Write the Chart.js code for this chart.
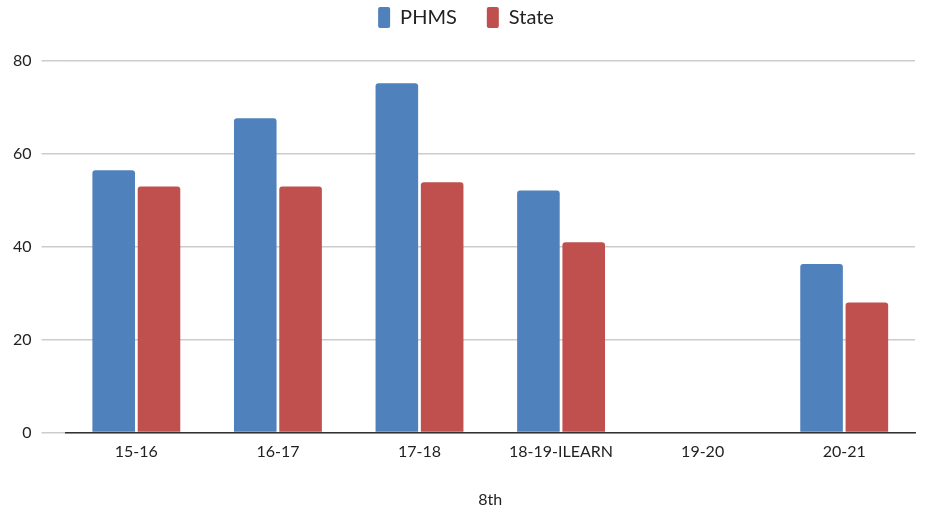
<!DOCTYPE html>
<html>
<head>
<meta charset="utf-8">
<script src="https://cdn.jsdelivr.net/npm/chart.js@4/dist/chart.umd.min.js"></script>
<style>
html,body{margin:0;padding:0;background:#fff;}
#wrap{width:929px;height:514px;position:relative;}
</style>
</head>
<body>
<div id="wrap"><canvas id="c"></canvas></div>
<script>
const categories = ["15-16", "16-17", "17-18", "18-19-ILEARN", "19-20", "20-21"];
const phms = [56.5, 67.7, 75.2, 52.1, null, 36.3];
const state = [53.0, 53.0, 53.9, 41.0, null, 28.0];
const yTicks = [0, 20, 40, 60, 80];
const xTitle = "8th";

const FONT = "Lato, 'Open Sans', sans-serif";
const legendSpacer = {
  id: 'legendSpacer',
  beforeInit(chart) {
    const origFit = chart.legend.fit;
    chart.legend.fit = function () {
      origFit.bind(chart.legend)();
      this.height += 23;
    };
  },
  afterLayout(chart) {
    chart.legend.left += 7;
    chart.legend.right += 7;
  }
};
new Chart(document.getElementById('c'), {
  type: 'bar',
  data: {
    labels: categories,
    datasets: [
      {label: 'PHMS', data: phms, backgroundColor: '#4F81BD', borderRadius: 3, borderSkipped: 'bottom'},
      {label: 'State', data: state, backgroundColor: '#C0504D', borderRadius: 3, borderSkipped: 'bottom'}
    ]
  },
  plugins: [legendSpacer],
  options: {
    responsive: true,
    maintainAspectRatio: false,
    animation: false,
    categoryPercentage: 0.64,
    barPercentage: 0.94,
    layout: {padding: {left: 3, right: 14, top: -23, bottom: 1}},
    plugins: {
      legend: {
        position: 'top',
        labels: {
          boxWidth: 12, boxHeight: 21, padding: 30,
          color: '#222',
          font: {family: FONT, size: 20},
          useBorderRadius: true, borderRadius: 2
        }
      },
      tooltip: {enabled: false}
    },
    scales: {
      x: {
        grid: {display: false},
        border: {display: true, color: '#333', width: 1.5},
        ticks: {color: '#222', font: {family: FONT, size: 16}, padding: 2, maxRotation: 0},
        title: {display: true, text: xTitle, color: '#222', font: {family: FONT, size: 16}, padding: {top: 26}}
      },
      y: {
        min: 0, max: 80,
        afterBuildTicks: (s) => { s.ticks = yTicks.map(v => ({value: v})); },
        grid: {color: '#cccccc', lineWidth: 1.5, tickLength: 24, tickColor: '#cccccc'},
        border: {display: false},
        ticks: {color: '#222', font: {family: FONT, size: 16}, padding: 10}
      }
    }
  }
});
</script>
</body>
</html>
